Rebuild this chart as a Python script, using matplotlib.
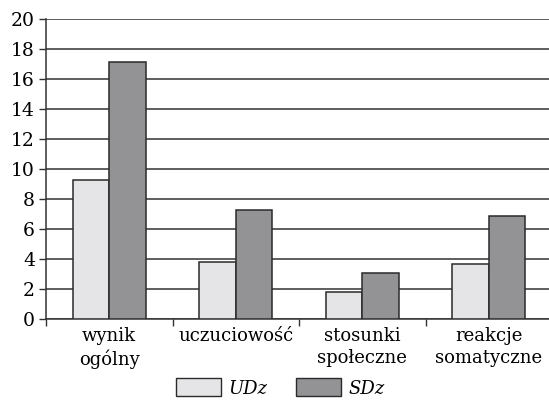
import matplotlib
matplotlib.use("Agg")
import matplotlib.pyplot as plt
from matplotlib.patches import Patch
import numpy as np

categories = ["wynik\nogólny", "uczuciowość", "stosunki\nspołeczne", "reakcje\nsomatyczne"]
udz = [9.25, 3.8, 1.8, 3.7]
sdz = [17.15, 7.3, 3.1, 6.85]
series_names = ["UDz", "SDz"]
yticks = list(range(0, 21, 2))

plt.rcParams['font.family'] = ['DejaVu Serif']
fig = plt.figure(figsize=(5.49, 4.08), dpi=100)
ax = fig.add_axes([46/549, 1-319/408, 1-46/549, 300/408])

x = np.arange(len(categories))
w = 0.29
ax.bar(x - w/2, udz, w, color="#e5e5e7", edgecolor="#2a2a2a", linewidth=1.1, zorder=3)
ax.bar(x + w/2, sdz, w, color="#939396", edgecolor="#2a2a2a", linewidth=1.1, zorder=3)

ax.set_ylim(0, 20)
ax.set_xlim(-0.5, -0.5 + 503/126.5)
ax.set_yticks(yticks)
ax.set_yticklabels([str(t) for t in yticks], fontsize=13.5)
for t in yticks:
    ax.axhline(t, color="#333333", linewidth=1.1, zorder=1)
ax.set_xticks(np.arange(len(categories)) - 0.5)
ax.set_xticklabels([])
ax.tick_params(axis='x', direction='out', length=5, width=1, color="#333333")
ax.tick_params(axis='y', direction='out', length=5, width=1, color="#333333", pad=3)
for s in ["top", "right"]:
    ax.spines[s].set_visible(False)
ax.spines["left"].set_color("#333333")
ax.spines["bottom"].set_color("#333333")
ax.spines["left"].set_linewidth(1.1)
ax.spines["bottom"].set_linewidth(1.1)

for i, c in enumerate(categories):
    ax.text(i, -0.55, c, ha="center", va="top", fontsize=13, linespacing=1.3,
            transform=ax.transData, clip_on=False)

handles = [Patch(facecolor="#e5e5e7", edgecolor="#2a2a2a", linewidth=1.0),
           Patch(facecolor="#939396", edgecolor="#2a2a2a", linewidth=1.0)]
leg = fig.legend(handles, series_names, loc="center", bbox_to_anchor=(0.51, 1-388/408),
                 ncol=2, frameon=False, handlelength=2.5, handleheight=1.15,
                 columnspacing=1.6, handletextpad=0.4,
                 prop={'family': 'DejaVu Serif', 'style': 'italic', 'size': 13})

fig.savefig("out.png", dpi=100)
